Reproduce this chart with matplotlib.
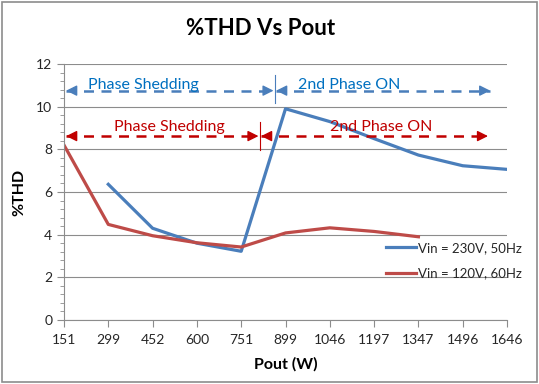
import matplotlib
matplotlib.use('Agg')
import matplotlib.pyplot as plt
from matplotlib.patches import Rectangle
from matplotlib.ticker import MultipleLocator

plt.rcParams['font.family'] = ['Lato', 'DejaVu Sans']

xblue = '#4A7EBB'
xred = '#BE4B48'
txt_blue = '#0070C0'
txt_red = '#C00000'

pout = ['151', '299', '452', '600', '751', '899', '1046', '1197', '1347', '1496', '1646']
thd_230 = [None, 6.36, 4.3, 3.6, 3.22, 9.9, 9.3, 8.5, 7.73, 7.23, 7.06]
thd_120 = [8.2, 4.48, 3.95, 3.62, 3.42, 4.08, 4.32, 4.15, 3.9, None, None]

fig = plt.figure(figsize=(5.39, 3.84), dpi=100)
ax = fig.add_axes([0.1187, 0.1667, 0.822, 0.6667])

x = list(range(len(pout)))
x1 = [i for i, v in zip(x, thd_230) if v is not None]
y1 = [v for v in thd_230 if v is not None]
x2 = [i for i, v in zip(x, thd_120) if v is not None]
y2 = [v for v in thd_120 if v is not None]
ax.plot(x1, y1, color=xblue, lw=2.3, label='Vin = 230V, 50Hz')
ax.plot(x2, y2, color=xred, lw=2.3, label='Vin = 120V, 60Hz')

ax.set_xlim(0, 10)
ax.set_ylim(0, 12)
ax.set_xticks(x)
ax.set_xticklabels(pout)
ax.yaxis.set_major_locator(MultipleLocator(2))
ax.yaxis.set_minor_locator(MultipleLocator(0.4))
ax.grid(axis='y', color='#8C8C8C', lw=0.8)
ax.set_axisbelow(True)
for s in ['top', 'right']:
    ax.spines[s].set_visible(False)
for s in ['left', 'bottom']:
    ax.spines[s].set_color('#8C8C8C')
ax.tick_params(axis='both', colors='#8C8C8C', labelcolor='#262626', labelsize=10, length=5)
ax.tick_params(axis='y', which='minor', colors='#8C8C8C', length=3)
ax.tick_params(axis='x', pad=5)

ax.set_xlabel('Pout (W)', fontsize=11.5, fontweight='bold', labelpad=8)
ax.set_ylabel('%THD', fontsize=11.5, fontweight='bold', labelpad=7)
fig.suptitle('%THD Vs Pout', fontsize=16, fontweight='bold', x=0.483, y=0.952)


# dashed span with heads at both ends
def span(xa, xb, y, color):
    ax.plot([xa, xb], [y, y], color=color, lw=1.8, ls=(0, (4, 3)))
    for tip, tail in [(xa, xb), (xb, xa)]:
        d = 0.2 if tail > tip else -0.2
        ax.annotate('', xy=(tip, y), xytext=(tip + d, y),
                    arrowprops=dict(arrowstyle='-|>', color=color, lw=1.0,
                                    mutation_scale=16, shrinkA=0, shrinkB=0))


blue_y, blue_split = 10.75, 4.76
span(0.05, blue_split - 0.03, blue_y, xblue)
span(blue_split + 0.03, 9.62, blue_y, xblue)
ax.plot([blue_split, blue_split], [10.17, 11.48], color=xblue, lw=0.8)
ax.text(1.8, 11.0, 'Phase Shedding', color=txt_blue, fontsize=11.5, ha='center', va='center')
ax.text(6.43, 11.0, '2nd Phase ON', color=txt_blue, fontsize=11.5, ha='center', va='center')

red_y, red_split = 8.62, 4.42
span(0.05, red_split - 0.03, red_y, txt_red)
span(red_split + 0.03, 9.57, red_y, txt_red)
ax.plot([red_split, red_split], [7.97, 9.28], color=txt_red, lw=0.8)
ax.text(2.39, 9.05, 'Phase Shedding', color=txt_red, fontsize=11.5, ha='center', va='center')
ax.text(7.17, 9.05, '2nd Phase ON', color=txt_red, fontsize=11.5, ha='center', va='center')

ax.legend(loc='center left', bbox_to_anchor=(0.70, 0.232), frameon=False, fontsize=9.5,
          handlelength=2.3, handletextpad=0.15, labelspacing=1.0, labelcolor='#262626')

fig.patches.append(Rectangle((0.003, 0.004), 0.994, 0.992, transform=fig.transFigure,
                             fill=False, edgecolor='#8C8C8C', lw=1.2))

fig.savefig('out.png', dpi=100)
